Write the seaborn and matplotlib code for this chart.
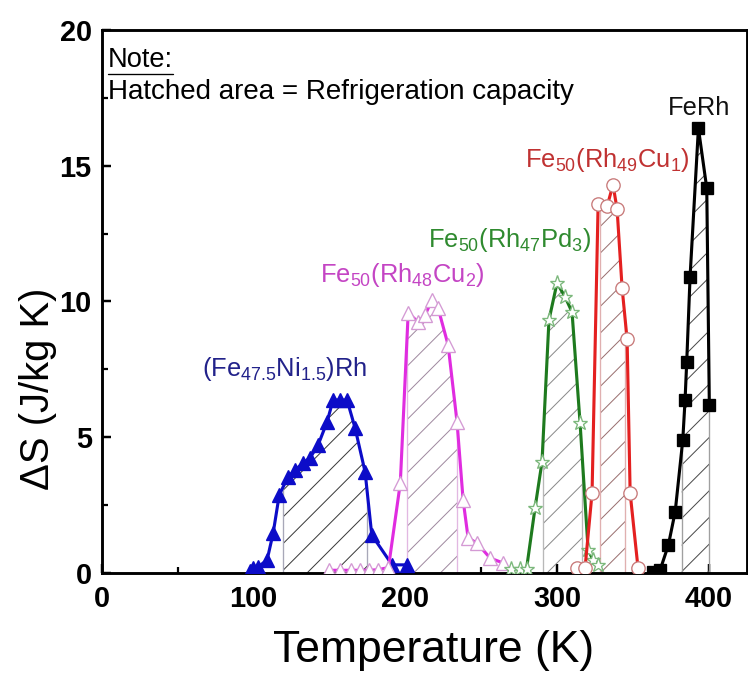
import numpy as np
import matplotlib
matplotlib.use("Agg")
import matplotlib.pyplot as plt
import seaborn as sns
import pandas as pd
from matplotlib.ticker import MultipleLocator

# ---------------- data ----------------
T_ni = [97.8, 99.7, 103, 109, 113, 117, 122.8, 127.4, 132.7, 137.3, 142.6,
        148.5, 152.5, 157, 161.7, 167, 173.6, 178, 191.4, 201]
S_ni = [0.07, 0.18, 0.22, 0.48, 1.47, 2.87, 3.54, 3.79, 4.05, 4.24, 4.71,
        5.56, 6.37, 6.37, 6.37, 5.34, 3.72, 1.40, 0.30, 0.30]

T_cu2 = [150, 157, 164, 170, 176, 182, 189, 196.8, 202, 208.6, 213.1, 217.7,
         221.7, 228.3, 234.2, 238.2, 241.5, 247.4, 256, 264.5]
S_cu2 = [0.10, 0.10, 0.10, 0.10, 0.10, 0.12, 0.20, 3.31, 9.58, 9.24, 9.50, 10.05,
         9.76, 8.40, 5.56, 2.69, 1.29, 1.10, 0.55, 0.37]

T_pd3 = [270, 276, 280, 285.6, 290.2, 294.8, 300.1, 305.4, 310, 315.3, 320.6,
         323.9, 327.2]
S_pd3 = [0.15, 0.15, 0.15, 2.39, 4.09, 9.32, 10.68, 10.17, 9.61, 5.52, 0.85,
         0.48, 0.30]

T_cu1 = [313.4, 318.6, 323.2, 327.2, 333.1, 337, 339.7, 343, 346.3, 348.3, 353.5]
S_cu1 = [0.20, 0.20, 2.95, 13.60, 13.50, 14.30, 13.40, 10.50, 8.60, 2.95, 0.18]

T_fe = [363.5, 368, 373.5, 378, 383, 384.5, 385.6, 387.8, 393.3, 398.8, 400.5]
S_fe = [0.05, 0.10, 1.03, 2.26, 4.90, 6.37, 7.78, 10.91, 16.38, 14.17, 6.19]

# hatched (refrigeration capacity) temperature windows
rc_ni = (119.5, 175.0)
rc_cu2 = (201.3, 234.2)
rc_pd3 = (291.0, 316.7)
rc_cu1 = (328.5, 345.0)
rc_fe = (382.3, 400.5)

labels = [r"(Fe$_{47.5}$Ni$_{1.5}$)Rh", r"Fe$_{50}$(Rh$_{48}$Cu$_{2}$)",
          r"Fe$_{50}$(Rh$_{47}$Pd$_{3}$)", r"Fe$_{50}$(Rh$_{49}$Cu$_{1}$)", "FeRh"]
label_pos = [(66, 7.25), (144, 10.7), (215, 12.0), (279, 14.95), (373, 16.85)]

x_ticks = [0, 100, 200, 300, 400]
y_ticks = [0, 5, 10, 15, 20]

# ---------------- style ----------------
sns.set_style("ticks")
plt.rcParams["font.family"] = ["Liberation Sans", "DejaVu Sans"]
plt.rcParams["mathtext.fontset"] = "custom"
plt.rcParams["mathtext.rm"] = "Liberation Sans"
plt.rcParams["mathtext.it"] = "Liberation Sans:italic"
plt.rcParams["mathtext.bf"] = "Liberation Sans:bold"
plt.rcParams["hatch.linewidth"] = 0.9
for key in ["text.color", "axes.labelcolor", "xtick.color", "ytick.color",
            "xtick.labelcolor", "ytick.labelcolor", "axes.edgecolor"]:
    plt.rcParams[key] = "black"

DPI = 80
fig = plt.figure(figsize=(748 / DPI, 681 / DPI), dpi=DPI, facecolor="white")
ax = fig.add_axes([0.136, 0.1586, 0.862, 0.7974])
ax.set_facecolor("white")

series = [
    dict(T=T_ni, S=S_ni, rc=rc_ni, line="#0c0cc8", marker="^", mfc="#0c0cc8",
         mec="#0c0cc8", ms=12, hatch="#3a3a3a", vline="#a8a8b8", tc="#22228a"),
    dict(T=T_cu2, S=S_cu2, rc=rc_cu2, line="#e02ce0", marker="^", mfc="white",
         mec="#d49ad4", ms=12, hatch="#a08aa0", vline="#e2b8e2", tc="#c445c4"),
    dict(T=T_pd3, S=S_pd3, rc=rc_pd3, line="#1e7a1e", marker="*", mfc="white",
         mec="#7cb87c", ms=14, hatch="#8a8a8a", vline="#b8b8b8", tc="#2f8a2f"),
    dict(T=T_cu1, S=S_cu1, rc=rc_cu1, line="#e42020", marker="o", mfc="white",
         mec="#c87a7a", ms=12, hatch="#9a7070", vline="#e0b0b0", tc="#c03232"),
    dict(T=T_fe, S=S_fe, rc=rc_fe, line="#000000", marker="s", mfc="#000000",
         mec="#000000", ms=10, hatch="#4a4a4a", vline="#a0a0a0", tc="#111111"),
]

for s in series:
    T = np.asarray(s["T"], float)
    S = np.asarray(s["S"], float)
    lo, hi = s["rc"]
    inner = T[(T > lo) & (T < hi)]
    xs = np.concatenate([[lo], inner, [hi]])
    ys = np.interp(xs, T, S)
    ax.fill_between(xs, 0, ys, facecolor="none", edgecolor=s["hatch"],
                    hatch="/", linewidth=0, zorder=1)
    ax.vlines([lo, hi], 0, [ys[0], ys[-1]], colors=s["vline"], linewidth=1.2, zorder=1.5)

for s in series:
    df = pd.DataFrame({"T": s["T"], "S": s["S"]})
    sns.lineplot(data=df, x="T", y="S", ax=ax, sort=False, estimator=None,
                 color=s["line"], linewidth=2.8, marker=s["marker"],
                 markersize=s["ms"], markerfacecolor=s["mfc"],
                 markeredgecolor=s["mec"], markeredgewidth=1.2, zorder=3)

for (txt, (lx, ly)), s in zip(zip(labels, label_pos), series):
    ax.text(lx, ly, txt, color=s["tc"], fontsize=23, ha="left", va="baseline", zorder=5)

# note
note = ax.text(0.009, 18.9, "Note:", fontsize=24.5, ha="left", va="center",
               transform=ax.get_yaxis_transform(which="grid"), zorder=5)
ax.text(0.009, 17.7, "Hatched area = Refrigeration capacity", fontsize=25,
        ha="left", va="center", transform=ax.get_yaxis_transform(which="grid"), zorder=5)

# axes
ax.set_xlim(0, 425)
ax.set_ylim(0, 20)
ax.set_xticks(x_ticks)
ax.set_yticks(y_ticks)
ax.xaxis.set_minor_locator(MultipleLocator(50))
ax.yaxis.set_minor_locator(MultipleLocator(2.5))
ax.tick_params(which="major", direction="in", length=8, width=2.2, labelsize=26,
               top=False, right=False, colors="black")
ax.tick_params(axis="x", which="major", pad=11)
ax.tick_params(axis="y", which="major", pad=9)
ax.tick_params(which="minor", direction="in", length=5, width=2.0, top=False,
               right=False, colors="black")
for lab in ax.get_xticklabels() + ax.get_yticklabels():
    lab.set_fontweight("bold")
for sp in ax.spines.values():
    sp.set_visible(True)
    sp.set_linewidth(2.6)
    sp.set_color("black")

ax.set_xlabel("Temperature (K)", fontsize=40, color="black")
ax.set_ylabel("ΔS (J/kg K)", fontsize=36, color="black")
ax.xaxis.set_label_coords(0.514, -0.105)
ax.yaxis.set_label_coords(-0.07, 0.34)

# underline "Note:"
fig.canvas.draw()
bb = note.get_window_extent()
ax.plot([bb.x0, bb.x1], [bb.y0 - 1, bb.y0 - 1], transform=None, color="black",
        linewidth=1.2, zorder=5, clip_on=False)

fig.savefig("out.png", dpi=DPI, facecolor="white")
